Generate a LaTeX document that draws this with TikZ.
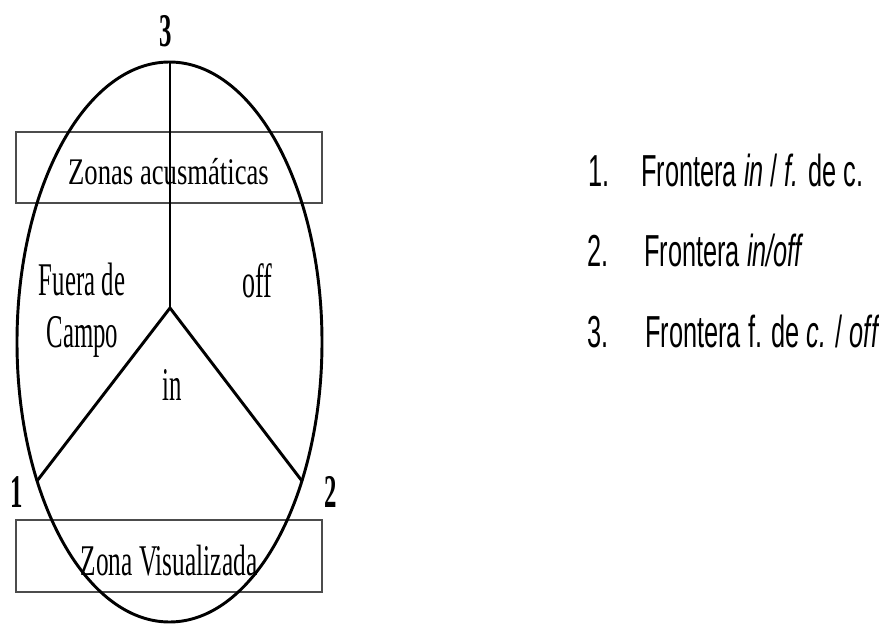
\documentclass[tikz,border=0pt]{standalone}
\usepackage{graphicx}
\usepackage{fontspec}
\setmainfont{Liberation Serif}
\newfontfamily\arialfont{Liberation Sans}
\newcommand{\stx}[3]{\scalebox{1}[#2]{\fontsize{#1}{#1}\selectfont #3}}
\begin{document}
\begin{tikzpicture}[x=0.75pt,y=-0.75pt,
  lbl/.style={inner sep=0pt, anchor=base, text=black},
  lbll/.style={inner sep=0pt, anchor=base west, text=black},
  zonebox/.style={draw=black!70, line width=1.3pt},
  thick line/.style={line width=2.2pt, line cap=round, line join=round},
  axis line/.style={line width=1.6pt}]
\useasboundingbox (0,0) rectangle (879,624);
% boxes
\node[zonebox, minimum width=306*0.75pt, minimum height=71*0.75pt, inner sep=0pt] (acus) at (169,167.5) {};
\node[zonebox, minimum width=306*0.75pt, minimum height=72*0.75pt, inner sep=0pt] (visu) at (169,556) {};
% ellipse
\draw[thick line] (169.5,342) ellipse [x radius=152.5, y radius=280];
% boundaries
\coordinate (top) at (170,62);
\coordinate (c) at (170,308);
\coordinate (p1) at (37,481);
\coordinate (p2) at (302,481);
\draw[axis line] (top) -- (c);
\draw[thick line] (p1) -- (c) -- (p2);
% texts
\node[lbl] (tacus) at (168.5,185) {\stx{20pt}{1.41}{Zonas acusmáticas}};
\node[lbl] (tvisu) at (169,575) {\stx{19pt}{1.73}{Zona Visualizada}};
\node[lbl] (fuera) at (82,296) {\stx{18.6pt}{1.89}{Fuera de}};
\node[lbl] (campo) at (82.5,348) {\stx{18.6pt}{1.89}{Campo}};
\node[lbl] (off) at (257.5,297) {\stx{19.5pt}{1.85}{off}};
\node[lbl] (in) at (172,400) {\stx{18.6pt}{1.89}{in}};
\node[lbl] (n3) at (166,47) {\stx{18.6pt}{1.89}{\bfseries 3}};
\node[lbl] (n1) at (17,507) {\stx{18.6pt}{1.89}{\bfseries 1}};
\node[lbl] (n2) at (331,507) {\stx{18.6pt}{1.89}{\bfseries 2}};
% list
\node[lbll] (l1n) at (588,187) {\stx{19pt}{1.77}{\arialfont 1.}};
\node[lbll] (l1t) at (641,187) {\stx{19pt}{1.77}{\arialfont Frontera \textit{in} / \textit{f.} de c.}};
\node[lbll] (l2n) at (587,267) {\stx{19pt}{1.77}{\arialfont 2.}};
\node[lbll] (l2t) at (644,267) {\stx{19pt}{1.77}{\arialfont Frontera \textit{in/off}}};
\node[lbll] (l3n) at (587,347) {\stx{19pt}{1.77}{\arialfont 3.}};
\node[lbll] (l3t) at (645,347) {\stx{19pt}{1.77}{\arialfont Frontera f. de \textit{c.} / \textit{off}}};
\end{tikzpicture}
\end{document}
